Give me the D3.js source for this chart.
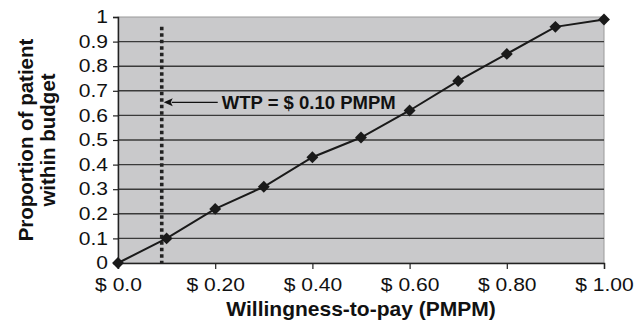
<!DOCTYPE html>
<html>
<head>
<meta charset="utf-8">
<script src="https://cdn.jsdelivr.net/npm/d3@7"></script>
<style>
  body { margin: 0; background: #fff; }
  svg { display: block; font-family: "Liberation Sans", Arial, sans-serif; }
</style>
</head>
<body>
<svg id="chart" width="644" height="328"></svg>
<script>
// data
const wtp = [0, 0.1, 0.2, 0.3, 0.4, 0.5, 0.6, 0.7, 0.8, 0.9, 1.0];
const proportion = [0, 0.1, 0.22, 0.31, 0.43, 0.51, 0.62, 0.74, 0.85, 0.96, 0.99];
const xTicks = [0, 0.2, 0.4, 0.6, 0.8, 1.0];
const xTickLabels = ["$ 0.0", "$ 0.20", "$ 0.40", "$ 0.60", "$ 0.80", "$ 1.00"];
const yTicks = [0, 0.1, 0.2, 0.3, 0.4, 0.5, 0.6, 0.7, 0.8, 0.9, 1];
const wtpMarker = 0.09;
const wtpLabel = "WTP = $ 0.10 PMPM";

const margin = {left: 118, right: 40, top: 17, bottom: 65};
const width = 644, height = 328;
const tickStretch = 1.17; // tick labels in the original are set noticeably wide

const svg = d3.select("#chart");

const x = d3.scaleLinear().domain([0, 1]).range([margin.left, width - margin.right]);
const y = d3.scaleLinear().domain([0, 1]).range([height - margin.bottom, margin.top]);

// plot background
svg.append("rect")
    .attr("x", x(0))
    .attr("y", y(1))
    .attr("width", x(1) - x(0))
    .attr("height", y(0) - y(1))
    .attr("fill", "#c9c9cb")
    .attr("stroke", "#9a9a9a")
    .attr("stroke-width", 1);

// gridlines
svg.append("g")
    .selectAll("line")
    .data(yTicks.filter(d => d > 0 && d < 1))
    .enter()
    .append("line")
    .attr("x1", x(0))
    .attr("x2", x(1))
    .attr("y1", d => y(d))
    .attr("y2", d => y(d))
    .attr("stroke", "#3a3a3a")
    .attr("stroke-width", 1.4);

// y axis
const yAxis = svg.append("g")
    .attr("transform", `translate(${x(0)},0)`)
    .call(d3.axisLeft(y).tickValues(yTicks).tickSize(5).tickPadding(6)
        .tickFormat(d => d === 0 || d === 1 ? d3.format("d")(d) : d3.format(".1f")(d)));
yAxis.select(".domain").attr("stroke", "#222").attr("stroke-width", 1.4);
yAxis.selectAll(".tick line").attr("stroke", "#222").attr("stroke-width", 1.2);
yAxis.selectAll("text")
    .attr("font-size", "18px")
    .attr("fill", "#111")
    .attr("font-family", "Liberation Sans, Arial, sans-serif")
    .attr("x", -10 / tickStretch)
    .attr("transform", `scale(${tickStretch},1)`);

// x axis
const xAxis = svg.append("g")
    .attr("transform", `translate(0,${y(0)})`)
    .call(d3.axisBottom(x).tickValues(xTicks).tickSize(6).tickPadding(9)
        .tickFormat((d, i) => xTickLabels[i]));
xAxis.select(".domain").attr("stroke", "#222").attr("stroke-width", 1.4);
xAxis.selectAll(".tick line").attr("stroke", "#222").attr("stroke-width", 1.2);
xAxis.selectAll("text")
    .attr("font-size", "18px")
    .attr("fill", "#111")
    .attr("font-family", "Liberation Sans, Arial, sans-serif")
    .attr("transform", `scale(${tickStretch},1)`);

// dotted WTP line
svg.append("line")
    .attr("x1", x(wtpMarker))
    .attr("x2", x(wtpMarker))
    .attr("y1", y(0.96))
    .attr("y2", y(0))
    .attr("stroke", "#222")
    .attr("stroke-width", 3.6)
    .attr("stroke-dasharray", "3.3,3.2");

// arrow + annotation
const arrowY = y(0.653);
const tipX = x(wtpMarker) + 2;
svg.append("line")
    .attr("x1", tipX + 8)
    .attr("x2", tipX + 54)
    .attr("y1", arrowY)
    .attr("y2", arrowY)
    .attr("stroke", "#111")
    .attr("stroke-width", 1.3);

svg.append("path")
    .attr("d", `M${tipX},${arrowY} L${tipX + 9},${arrowY - 4} L${tipX + 7},${arrowY} L${tipX + 9},${arrowY + 4} Z`)
    .attr("fill", "#111");

svg.append("text")
    .attr("x", tipX + 58)
    .attr("y", arrowY + 6.5)
    .attr("font-size", "18.5px")
    .attr("font-weight", "bold")
    .attr("fill", "#111")
    .text(wtpLabel);

// series line
const points = wtp.map((d, i) => [d, proportion[i]]);
svg.append("path")
    .datum(points)
    .attr("fill", "none")
    .attr("stroke", "#1a1a1a")
    .attr("stroke-width", 2)
    .attr("d", d3.line().x(d => x(d[0])).y(d => y(d[1])));

svg.append("g")
    .selectAll("path")
    .data(points)
    .enter()
    .append("path")
    .attr("d", d3.symbol().type(d3.symbolDiamond2).size(90))
    .attr("transform", d => `translate(${x(d[0])},${y(d[1])})`)
    .attr("fill", "#1a1a1a");

// axis titles
svg.append("text")
    .attr("x", (x(0) + x(1)) / 2)
    .attr("y", 316)
    .attr("text-anchor", "middle")
    .attr("font-size", "21px")
    .attr("font-weight", "bold")
    .attr("fill", "#111")
    .text("Willingness-to-pay (PMPM)");

const yTitle = svg.append("text")
    .attr("transform", `translate(33,${(y(0) + y(1)) / 2}) rotate(-90)`)
    .attr("text-anchor", "middle")
    .attr("font-size", "20.5px")
    .attr("font-weight", "bold")
    .attr("fill", "#111");
yTitle.append("tspan").attr("x", 0).attr("dy", 0).text("Proportion of patient");
yTitle.append("tspan").attr("x", 0).attr("dy", 21.5).text("within budget");
</script>
</body>
</html>
